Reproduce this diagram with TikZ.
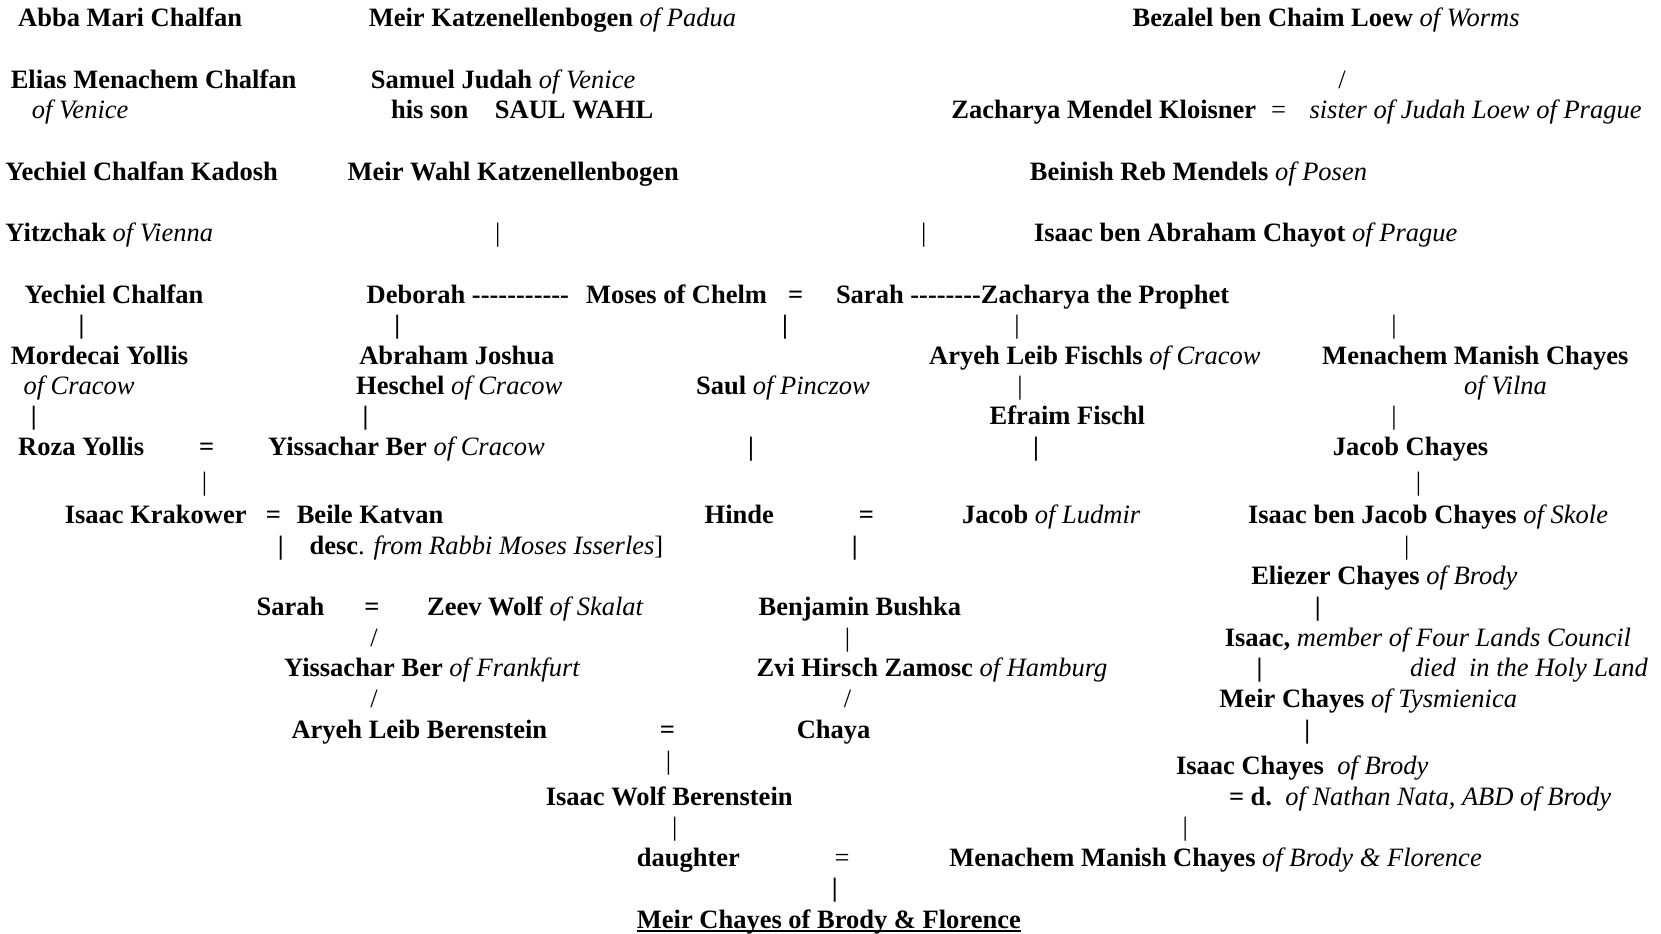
\documentclass[tikz,border=0pt]{standalone}
\usepackage{fontspec}
\newfontfamily\tnr{Liberation Serif}
\newcommand\B[1]{\textbf{#1}}
\newcommand\I[1]{\textit{#1}}
\begin{document}
\begin{tikzpicture}[x=1.0593pt,y=-1.0593pt,
  every node/.style={font=\tnr\fontsize{26.5}{30}\selectfont, inner sep=0pt, anchor=mid west, yshift=-6.4pt},
  c/.style={anchor=mid},
  uline/.style={line width=1.7pt}]
\useasboundingbox[fill=white] (0,0) rectangle (1568,881);
% row 1
\node (abba) at (17,17) {\B{Abba Mari Chalfan}};
\node (meirk) at (348,17) {\B{Meir Katzenellenbogen} \I{of Padua}};
\node (bezalel) at (1069,17) {\B{Bezalel ben Chaim Loew} \I{of Worms}};
% row 2
\node[c] (s1) at (1267,75) {/};
\node (elias) at (10,75) {\B{Elias Menachem Chalfan}};
\node (eliasv) at (30,104) {\I{of Venice}};
\node (samuel) at (350,75) {\B{Samuel Judah} \I{of Venice}};
\node (hisson) at (369,104) {\B{his son}};
\node (saul) at (467,104) {\B{SAUL WAHL}};
\node (zach) at (898,104) {\B{Zacharya Mendel Kloisner}};
\node[c] (eq1) at (1207,104) {=};
\node (sister) at (1236,104) {\I{sister of Judah Loew of Prague}};
% row 3
\node (kadosh) at (5,162) {\B{Yechiel Chalfan Kadosh}};
\node (meirw) at (328,162) {\B{Meir Wahl Katzenellenbogen}};
\node (beinish) at (972,162) {\B{Beinish Reb Mendels} \I{of Posen}};
% row 4
\node (yitz) at (5,220) {\B{Yitzchak} \I{of Vienna}};
\node[c] (b1) at (470,220) {|};
\node[c] (b2) at (872,220) {|};
\node (isaacc) at (976,220) {\B{Isaac ben Abraham Chayot} \I{of Prague}};
% row 5
\node (yech) at (23,278) {\B{Yechiel Chalfan}};
\node (deb) at (346,278) {\B{Deborah -----------}};
\node (moses) at (553,278) {\B{Moses of Chelm}};
\node[c] (eq2) at (751,278) {\B{=}};
\node (sarah) at (789,278) {\B{Sarah --------Zacharya the Prophet}};
\node[c] (b3) at (77,307) {\B{|}};
\node[c] (b4) at (375,307) {\B{|}};
\node[c] (b5) at (741,307) {\B{|}};
\node[c] (b6) at (960,307) {|};
\node[c] (b7) at (1316,307) {|};
% row 6
\node (mord) at (10,336) {\B{Mordecai Yollis}};
\node (mordc) at (22,364) {\I{of Cracow}};
\node (abr) at (339,336) {\B{Abraham Joshua}};
\node (hesch) at (336,364) {\B{Heschel} \I{of Cracow}};
\node (saulp) at (657,364) {\B{Saul} \I{of Pinczow}};
\node (aryeh) at (877,336) {\B{Aryeh Leib Fischls} \I{of Cracow}};
\node[c] (b8) at (963,364) {|};
\node (mm) at (1248,336) {\B{Menachem Manish Chayes}};
\node (vilna) at (1382,364) {\I{of Vilna}};
\node[c] (b9) at (32,393) {\B{|}};
\node[c] (b10) at (345,393) {\B{|}};
\node[c] (b11) at (1316,393) {|};
\node (efraim) at (934,393) {\B{Efraim Fischl}};
% row 7
\node (roza) at (17,422) {\B{Roza Yollis}};
\node[c] (eq3) at (195,422) {\B{=}};
\node (yiss) at (253,422) {\B{Yissachar Ber} \I{of Cracow}};
\node[c] (b12) at (709,422) {\B{|}};
\node[c] (b13) at (978,422) {\B{|}};
\node (jacobc) at (1258,422) {\B{Jacob Chayes}};
\node[c] (b14) at (193,455) {|};
\node[c] (b15) at (1339,455) {|};
% row 8
\node (isaack) at (61,486) {\B{Isaac Krakower}};
\node[c] (eq4) at (258,486) {\B{=}};
\node (beile) at (280,486) {\B{Beile Katvan}};
\node (hinde) at (665,486) {\B{Hinde}};
\node[c] (eq5) at (818,486) {\B{=}};
\node (jacobl) at (908,486) {\B{Jacob} \I{of Ludmir}};
\node (isaacbj) at (1178,486) {\B{Isaac ben Jacob Chayes} \I{of Skole}};
\node[c] (b16) at (265,515) {\B{|}};
\node (desc) at (292,515) {\B{desc}. \I{from Rabbi Moses Isserles}]};
\node[c] (b17) at (807,515) {\B{|}};
\node[c] (b18) at (1328,515) {|};
\node (eliezer) at (1181,544) {\B{Eliezer Chayes} \I{of Brody}};
% row 9
\node (sarah2) at (242,573) {\B{Sarah}};
\node[c] (eq6) at (351,573) {\B{=}};
\node (zeev) at (403,573) {\B{Zeev Wolf} \I{of Skalat}};
\node (benj) at (716,573) {\B{Benjamin Bushka}};
\node[c] (b19) at (1244,573) {\B{|}};
\node[c] (s2) at (353,602) {/};
\node[c] (b20) at (800,602) {|};
\node (isaacm) at (1156,602) {\B{Isaac,} \I{member of Four Lands Council}};
\node (yissf) at (268,631) {\B{Yissachar Ber} \I{of Frankfurt}};
\node (zvi) at (714,631) {\B{Zvi Hirsch Zamosc} \I{of Hamburg}};
\node[c] (b21) at (1189,631) {\B{|}};
\node (died) at (1331,631) {\I{died\ \ in the Holy Land}};
\node[c] (s3) at (353,660) {/};
\node[c] (s4) at (800,660) {/};
\node (meirt) at (1151,660) {\B{Meir Chayes} \I{of Tysmienica}};
\node (aryehb) at (275,689) {\B{Aryeh Leib Berenstein}};
\node[c] (eq7) at (630,689) {\B{=}};
\node (chaya) at (752,689) {\B{Chaya}};
\node[c] (b22) at (1234,689) {\B{|}};
\node[c] (b23) at (631,718) {|};
\node (isaacb) at (1110,723) {\B{Isaac Chayes}\ \ \I{of Brody}};
\node (isaacw) at (515,752) {\B{Isaac Wolf Berenstein}};
\node (dnathan) at (1160,752) {\B{= d.}\ \ \I{of Nathan Nata, ABD of Brody}};
\node[c] (b24) at (637,781) {|};
\node[c] (b25) at (1119,781) {|};
\node (daughter) at (601,810) {\B{daughter}};
\node[c] (eq8) at (795,810) {=};
\node (mmb) at (896,810) {\B{Menachem Manish Chayes} \I{of Brody \& Florence}};
\node[c] (b26) at (788,838) {\B{|}};
\node (meirf) at (601,868) {\B{Meir Chayes of Brody \& Florence}};
\draw[uline] ([yshift=-3.2pt]meirf.base west) -- ([yshift=-3.2pt]meirf.base east);
\end{tikzpicture}
\end{document}
